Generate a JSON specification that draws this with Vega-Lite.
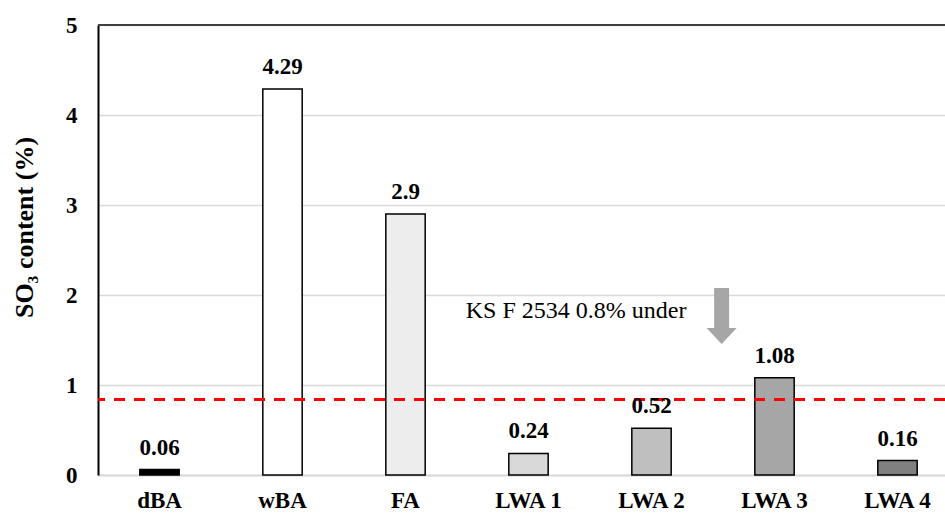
{
  "$schema": "https://vega.github.io/schema/vega-lite/v6.json",
  "width": 847,
  "height": 450,
  "autosize": {"type": "none"},
  "padding": {"left": 98, "top": 25, "right": 0, "bottom": 39},
  "background": "white",
  "config": {"view": {"stroke": null}, "font": "'Liberation Serif', 'Times New Roman', 'DejaVu Serif', serif"},
  "datasets": {
    "bars": [
      {"material": "dBA", "so3": 0.06},
      {"material": "wBA", "so3": 4.29},
      {"material": "FA", "so3": 2.9},
      {"material": "LWA 1", "so3": 0.24},
      {"material": "LWA 2", "so3": 0.52},
      {"material": "LWA 3", "so3": 1.08},
      {"material": "LWA 4", "so3": 0.16}
    ],
    "note": [
      {"note": "KS F 2534 0.8% under", "pos": 2.49, "level": 1.744}
    ],
    "arrow": [
      {"pos": 4.57, "level": 1.767}
    ]
  },
  "layer": [
    {
      "data": {"name": "bars"},
      "layer": [
        {
          "mark": {"type": "bar", "stroke": "#000000", "strokeWidth": 1.5},
          "encoding": {
            "x": {
              "field": "material", "type": "nominal", "sort": null,
              "scale": {"range": [0, 861], "paddingInner": 0.68, "paddingOuter": 0.34},
              "axis": {
                "title": null, "labelAngle": 0, "ticks": false,
                "labelFont": "'Liberation Serif', 'Times New Roman', serif", "labelFontWeight": "bold", "labelFontSize": 23,
                "labelColor": "#000000", "labelPadding": 14,
                "domainColor": "#d9d9d9", "domainWidth": 2
              }
            },
            "y": {
              "field": "so3", "type": "quantitative",
              "scale": {"domain": [0, 5]},
              "axis": {
                "title": "SO₃ content (%)", "values": [0, 1, 2, 3, 4, 5], "format": "d",
                "ticks": false, "grid": true, "gridColor": "#d9d9d9", "gridWidth": 1.5,
                "domainColor": "#000000", "domainWidth": 2,
                "labelFont": "'Liberation Serif', 'Times New Roman', serif", "labelFontWeight": "bold", "labelFontSize": 23,
                "labelColor": "#000000", "labelPadding": 21,
                "titleFont": "'Liberation Serif', 'Times New Roman', serif", "titleFontWeight": "bold", "titleFontSize": 26,
                "titleColor": "#000000", "titlePadding": 28, "titleY": 202
              }
            },
            "fill": {
              "field": "material", "type": "nominal", "sort": null,
              "scale": {
                "domain": ["dBA", "wBA", "FA", "LWA 1", "LWA 2", "LWA 3", "LWA 4"],
                "range": ["#000000", "#ffffff", "#ededed", "#d9d9d9", "#bfbfbf", "#a6a6a6", "#808080"]
              },
              "legend": null
            }
          }
        },
        {
          "mark": {"type": "rule", "color": "#ff0000", "strokeWidth": 3, "strokeDash": [11, 9]},
          "encoding": {"y": {"datum": 0.84, "type": "quantitative"}}
        },
        {
          "mark": {"type": "rule", "color": "#404040", "strokeWidth": 2},
          "encoding": {"y": {"datum": 5, "type": "quantitative"}}
        },
        {
          "mark": {"type": "text", "font": "'Liberation Serif', 'Times New Roman', serif", "fontWeight": "bold", "fontSize": 23, "baseline": "alphabetic", "dy": -15, "color": "#000000"},
          "encoding": {
            "x": {"field": "material", "type": "nominal", "sort": null},
            "y": {"field": "so3", "type": "quantitative"},
            "text": {"field": "so3", "type": "quantitative"}
          }
        }
      ]
    },
    {
      "layer": [
        {
          "data": {"name": "note"},
          "mark": {"type": "text", "font": "'Liberation Serif', 'Times New Roman', serif", "fontSize": 24, "align": "left", "baseline": "alphabetic", "color": "#000000"},
          "encoding": {
            "x": {"field": "pos", "type": "quantitative", "scale": {"domain": [-0.5, 6.386], "nice": false, "zero": false}, "axis": null},
            "y": {"field": "level", "type": "quantitative"},
            "text": {"field": "note", "type": "nominal"}
          }
        },
        {
          "data": {"name": "arrow"},
          "mark": {
            "type": "point", "filled": true, "opacity": 1, "color": "#a6a6a6", "size": 3136,
            "shape": "M -0.268 -1 L 0.268 -1 L 0.268 0.43 L 0.536 0.43 L 0 1 L -0.536 0.43 L -0.268 0.43 Z"
          },
          "encoding": {
            "x": {"field": "pos", "type": "quantitative"},
            "y": {"field": "level", "type": "quantitative"}
          }
        }
      ]
    }
  ],
  "resolve": {"scale": {"x": "independent"}}
}
